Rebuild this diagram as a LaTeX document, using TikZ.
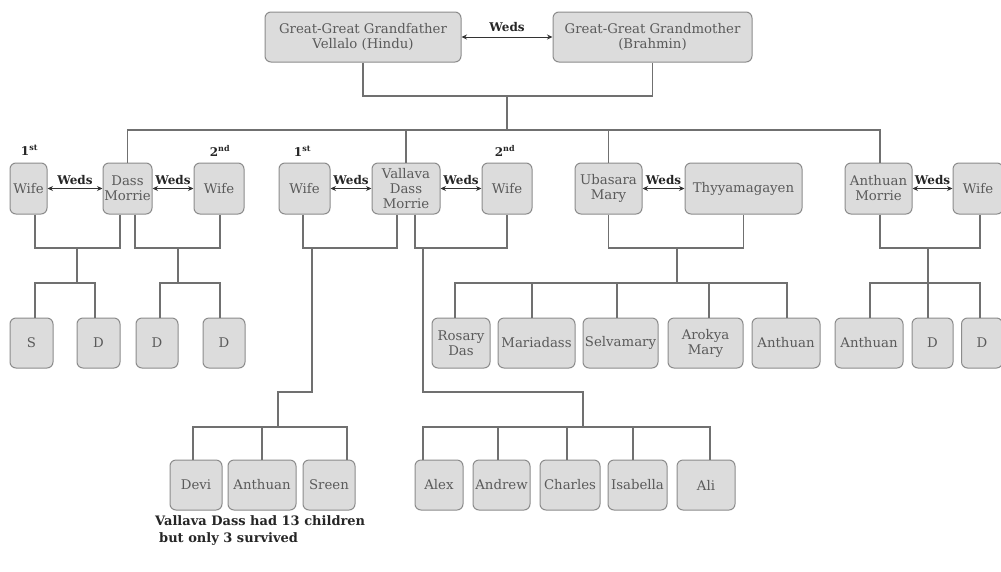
\documentclass[tikz,border=0pt]{standalone}
\usepackage{fontspec}
\setmainfont{DejaVu Serif}
\usetikzlibrary{arrows.meta}
\definecolor{boxfill}{HTML}{DCDCDC}
\definecolor{boxline}{HTML}{8C8C8C}
\definecolor{conn}{HTML}{707070}
\definecolor{txt}{HTML}{5A5A5A}
\tikzset{
  person/.style={draw=boxline, fill=boxfill, rounded corners=6pt, line width=1pt,
    align=center, inner sep=1pt, text=txt, font=\fontsize{13.3}{15}\selectfont},
  tie/.style={line width=1.2pt, draw=conn},
  wed/.style={draw=black!80, line width=0.9pt, {Stealth[length=5.5pt,width=5pt]}-{Stealth[length=5.5pt,width=5pt]}},
  wedlbl/.style={font=\bfseries\fontsize{12}{14}\selectfont, text=black!85, inner sep=1pt},
}
\begin{document}
\begin{tikzpicture}[x=1pt,y=-1pt]
\fill[white] (0,0) rectangle (1001,571);
\useasboundingbox (0,0) rectangle (1001,571);

% generation 1
\node[person, minimum width=196pt, minimum height=50pt] (ggf) at (363,37) {Great-Great Grandfather\\Vellalo (Hindu)};
\node[person, minimum width=199pt, minimum height=50pt] (ggm) at (652.5,37) {Great-Great Grandmother\\(Brahmin)};
\draw[wed] (ggf.east) -- (ggm.west) node[wedlbl, midway, above=4pt] {Weds};

% generation 2
\node[person, minimum width=37pt, minimum height=51pt] (w1a) at (28.5,188.5) {Wife};
\node[person, minimum width=49pt, minimum height=51pt] (dass) at (127.5,188.5) {Dass\\Morrie};
\node[person, minimum width=50pt, minimum height=51pt] (w2a) at (219,188.5) {Wife};
\node[person, minimum width=51pt, minimum height=51pt] (w1b) at (304.5,188.5) {Wife};
\node[person, minimum width=68pt, minimum height=51pt] (vdm) at (406,188.5) {Vallava\\Dass\\Morrie};
\node[person, minimum width=50pt, minimum height=51pt] (w2b) at (507,188.5) {Wife};
\node[person, minimum width=67pt, minimum height=51pt] (ubm) at (608.5,188.5) {Ubasara\\Mary};
\node[person, minimum width=117pt, minimum height=51pt] (thy) at (743.5,188.5) {Thyyamagayen};
\node[person, minimum width=67pt, minimum height=51pt] (anm) at (878.5,188.5) {Anthuan\\Morrie};
\node[person, minimum width=50pt, minimum height=51pt] (w3) at (978,188.5) {Wife};

\node[wedlbl, anchor=south, inner sep=0pt] (o1) at ([yshift=7pt,xshift=1pt]w1a.north) {1\textsuperscript{st}};
\node[wedlbl, anchor=south, inner sep=0pt] (o2) at ([yshift=6pt,xshift=1pt]w2a.north) {2\textsuperscript{nd}};
\node[wedlbl, anchor=south, inner sep=0pt] (o3) at ([yshift=6pt,xshift=-2pt]w1b.north) {1\textsuperscript{st}};
\node[wedlbl, anchor=south, inner sep=0pt] (o4) at ([yshift=6pt,xshift=-2pt]w2b.north) {2\textsuperscript{nd}};

\draw[wed] (w1a.east) -- (dass.west) node[wedlbl, midway, above=2pt] {Weds};
\draw[wed] (dass.east) -- (w2a.west) node[wedlbl, midway, above=2pt] {Weds};
\draw[wed] (w1b.east) -- (vdm.west) node[wedlbl, midway, above=2pt] {Weds};
\draw[wed] (vdm.east) -- (w2b.west) node[wedlbl, midway, above=2pt] {Weds};
\draw[wed] (ubm.east) -- (thy.west) node[wedlbl, midway, above=2pt] {Weds};
\draw[wed] (anm.east) -- (w3.west) node[wedlbl, midway, above=2pt] {Weds};

% children row A
\node[person, minimum width=43pt, minimum height=50pt] (s1) at (31.5,343) {S};
\node[person, minimum width=43pt, minimum height=50pt] (d1) at (98.5,343) {D};
\node[person, minimum width=42pt, minimum height=50pt] (d2) at (157,343) {D};
\node[person, minimum width=42pt, minimum height=50pt] (d3) at (224,343) {D};
\node[person, minimum width=58pt, minimum height=50pt] (rosary) at (461,343) {Rosary\\Das};
\node[person, minimum width=77pt, minimum height=50pt] (maria) at (536.5,343) {Mariadass};
\node[person, minimum width=75pt, minimum height=50pt] (selva) at (620.5,343) {Selvamary};
\node[person, minimum width=75pt, minimum height=50pt] (arokya) at (705.5,343) {Arokya\\Mary};
\node[person, minimum width=68pt, minimum height=50pt] (anth3) at (786,343) {Anthuan};
\node[person, minimum width=68pt, minimum height=50pt] (anth4) at (869,343) {Anthuan};
\node[person, minimum width=41pt, minimum height=50pt] (d4) at (932.5,343) {D};
\node[person, minimum width=41pt, minimum height=50pt] (d5) at (982,343) {D};

% children row B
\node[person, minimum width=52pt, minimum height=50pt] (devi) at (196,485) {Devi};
\node[person, minimum width=68pt, minimum height=50pt] (anth2) at (262,485) {Anthuan};
\node[person, minimum width=52pt, minimum height=50pt] (sreen) at (329,485) {Sreen};
\node[person, minimum width=48pt, minimum height=50pt] (alex) at (439,485) {Alex};
\node[person, minimum width=57pt, minimum height=50pt] (andrew) at (501.5,485) {Andrew};
\node[person, minimum width=60pt, minimum height=50pt] (charles) at (570,485) {Charles};
\node[person, minimum width=59pt, minimum height=50pt] (isabella) at (637.5,485) {Isabella};
\node[person, minimum width=58pt, minimum height=50pt] (ali) at (706,485) {Ali};

\node[wedlbl, anchor=north west, align=left, font=\bfseries\fontsize{13}{17}\selectfont] (note) at (154,514) {Vallava Dass had 13 children\\\hspace*{4pt}but only 3 survived};

% trunk
\coordinate (top) at (507,96);
\coordinate (bus) at (507,130);
\draw[tie] (ggf.south) |- (top) -| (ggm.south);
\draw[tie] (top) -- (bus);
\draw[tie] (dass.north) |- (bus) -| ([xshift=1.5pt]anm.north);
\draw[tie] (vdm.north) -- (vdm.north |- bus);
\draw[tie] (ubm.north) -- (ubm.north |- bus);

% Dass + 1st wife
\coordinate (f1) at (77,248);
\coordinate (f1c) at (77,283);
\draw[tie] ([xshift=6.5pt]w1a.south) |- (f1) -| ([xshift=-7.5pt]dass.south);
\draw[tie] (f1) -- (f1c);
\draw[tie] ([xshift=3.5pt]s1.north) |- (f1c) -| ([xshift=-3.5pt]d1.north);

% Dass + 2nd wife
\coordinate (f2) at (178,248);
\coordinate (f2c) at (178,283);
\draw[tie] ([xshift=7.5pt]dass.south) |- (f2) -| ([xshift=1pt]w2a.south);
\draw[tie] (f2) -- (f2c);
\draw[tie] ([xshift=3pt]d2.north) |- (f2c) -| ([xshift=-4pt]d3.north);

% Vallava + 1st wife
\coordinate (f3) at (312,248);
\coordinate (f3b) at (278,392);
\coordinate (f3c) at (278,427);
\draw[tie] ([xshift=-1.5pt]w1b.south) |- (f3) -| ([xshift=-9pt]vdm.south);
\draw[tie] (f3) |- (f3b) -- (f3c);
\draw[tie] ([xshift=-3pt]devi.north) |- (f3c) -| ([xshift=18pt]sreen.north);
\draw[tie] (anth2.north) -- (anth2.north |- f3c);

% Vallava + 2nd wife
\coordinate (f4) at (423,248);
\coordinate (f4b) at (583,392);
\coordinate (f4c) at (583,427);
\draw[tie] ([xshift=9pt]vdm.south) |- (f4) -| (w2b.south);
\draw[tie] (f4) |- (f4b) -- (f4c);
\draw[tie] ([xshift=-16pt]alex.north) |- (f4c) -| ([xshift=4pt]ali.north);
\draw[tie] ([xshift=-3.5pt]andrew.north) -- ([xshift=-3.5pt]andrew.north |- f4c);
\draw[tie] ([xshift=-3pt]charles.north) -- ([xshift=-3pt]charles.north |- f4c);
\draw[tie] ([xshift=-4.5pt]isabella.north) -- ([xshift=-4.5pt]isabella.north |- f4c);

% Ubasara + Thyyamagayen
\coordinate (f5) at (677,248);
\coordinate (f5c) at (677,283);
\draw[tie] (ubm.south) |- (f5) -| (thy.south);
\draw[tie] (f5) -- (f5c);
\draw[tie] ([xshift=-6pt]rosary.north) |- (f5c) -| ([xshift=1pt]anth3.north);
\draw[tie] ([xshift=-4.5pt]maria.north) -- ([xshift=-4.5pt]maria.north |- f5c);
\draw[tie] ([xshift=-3.5pt]selva.north) -- ([xshift=-3.5pt]selva.north |- f5c);
\draw[tie] ([xshift=3.5pt]arokya.north) -- ([xshift=3.5pt]arokya.north |- f5c);

% Anthuan Morrie + wife
\coordinate (f6) at (928,248);
\coordinate (f6c) at (928,283);
\draw[tie] ([xshift=1.5pt]anm.south) |- (f6) -| ([xshift=2pt]w3.south);
\draw[tie] (f6) -- (f6c);
\draw[tie] ([xshift=1pt]anth4.north) |- (f6c) -| ([xshift=-2pt]d5.north);
\draw[tie] (f6c) -- (f6c |- d4.north);
\end{tikzpicture}
\end{document}
